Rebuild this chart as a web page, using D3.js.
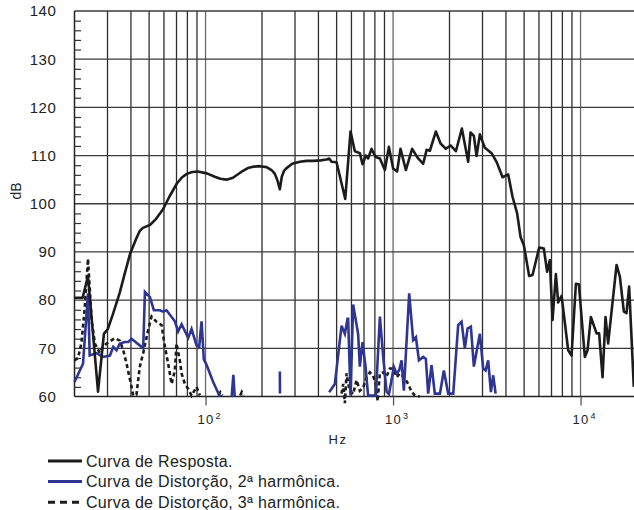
<!DOCTYPE html>
<html>
<head>
<meta charset="utf-8">
<script src="https://cdn.jsdelivr.net/npm/d3@7"></script>
<style>
  body { margin: 0; background: #fff; }
  text { font-family: "Liberation Sans", Arial, sans-serif; fill: #222; }
</style>
</head>
<body>
<script>
const wid = 634, hei = 510;

// Curva de Resposta: [Hz, dB]
const resposta = [
  [20, 80.5], [22.1, 80.5], [23.6, 85], [26.7, 61], [28.7, 73], [30.1, 74], [32, 77],
  [34.9, 81.6], [37, 85.4], [39.5, 89.5], [42.5, 92.6], [44.5, 94.3], [46.3, 95],
  [50.5, 95.6], [54, 96.7], [59.2, 98.8], [64, 101.4], [70.3, 104.2], [75, 105.5],
  [79.5, 106.2], [85, 106.6], [91, 106.7], [101.6, 106.3], [112, 105.6], [120, 105.2],
  [129.4, 105], [140, 105.4], [155, 106.6], [168, 107.4], [179.5, 107.7], [195, 107.8],
  [211.5, 107.6], [225, 107], [234.2, 106.2], [242, 104.8], [249, 103], [255, 105.6],
  [262, 106.8], [270.4, 107.4], [290, 108.3], [318.5, 108.7], [345, 108.9], [374.9, 108.9],
  [410, 109], [441.9, 109.2], [456.3, 109.4],
  [469.9, 108.7], [499.7, 108.6], [555.9, 101], [593.2, 115], [625.5, 110.9], [665.1, 110.5],
  [687.5, 108.2], [716.1, 110], [736.2, 109.4], [767.6, 111.4], [806.7, 109.7], [850.6, 109.4],
  [904.4, 107], [950.1, 111.8], [1001, 107.3], [1051, 106.7], [1096, 111.4], [1170, 107],
  [1264, 111.4], [1361, 109.4], [1448, 108.3], [1510, 111.2], [1572, 111], [1692, 115],
  [1792, 112.5], [1913, 111.4], [2026, 112.1], [2163, 110.9], [2328, 115.6], [2515, 108.7],
  [2590, 114.8], [2698, 114.1], [2788, 109.9], [2904, 114.4], [3088, 111.6], [3352, 110.5],
  [3564, 108.7], [3838, 105.5], [4111, 106.1], [4340, 101.4], [4590, 98], [4786, 93.1],
  [4986, 91.4], [5319, 85], [5545, 85.2], [6014, 90.9], [6371, 90.7], [6633, 85.9],
  [6855, 88.3], [7090, 75.9], [7386, 85.4], [7598, 79.5], [7922, 80.9], [8590, 69.6],
  [8955, 68.5], [9444, 83.4], [9796, 83.3], [10540, 68.2], [10900, 69.6], [11350, 76.5],
  [12170, 73.1], [12560, 73.1], [13100, 64], [13590, 76.5], [14030, 71], [15560, 87.3],
  [16200, 84.9], [17020, 77.6], [17580, 77.3], [18160, 82.8], [19230, 62]
];

// Curva de Distorção, 2ª harmônica (null = abaixo de 60 dB)
const harm2 = [
  [20, 63], [22.2, 66.8], [23.6, 81.4], [24.1, 68.5], [26.2, 69], [28.4, 68.2], [30.9, 68.5],
  [32.2, 70.3], [33.5, 69.6], [34.9, 71], [37.1, 71.3], [38.7, 71.3], [40.3, 72], [46.5, 70],
  [47.5, 81.7], [50.5, 80.6], [53, 77.9], [57.1, 77.9], [59.4, 77.6], [61.9, 77.9],
  [68.6, 75.6], [71.4, 73.5], [74.5, 75], [80.8, 72.2], [84.2, 74], [89.5, 70.6], [92.5, 70.3],
  [95.2, 75.6], [97.9, 67.7], [101.2, 66.6], [109.8, 63], [119.2, 60], null,
  [137.8, 60], [140.7, 64.5], [143, 60], null,
  [249, 65.2], [249.4, 60.6], null,
  [456.3, 60.9], [489.3, 62.6], [531.4, 74.7], [553.3, 73], [571.6, 76.1], [576, 76.1],
  [593.2, 60.2], [612.4, 79.1], [651.1, 73], [665.1, 66.2], [687.5, 71.3], [713, 66.2],
  [736.2, 60.2], [809.6, 60.2], [850.6, 76.6], [885.9, 68.2], [923.4, 61], [950.1, 60.5],
  [981.7, 63.4], [1009, 66.2], [1044, 64.8], [1078, 65.4], [1110, 67.5], [1142, 61.2],
  [1219, 81.4], [1280, 71.7], [1324, 72.3], [1374, 67.5], [1448, 68.2], [1496, 67.8],
  [1539, 60.6], [1604, 66.5], [1670, 60.6], [1778, 60.6], [1866, 65.4], [1968, 60.6],
  [2094, 60.6], [2225, 74.8], [2319, 75.5], [2415, 70], [2496, 74.1], [2600, 74.5],
  [2698, 66.2], [2788, 69.3], [2904, 73], [3025, 65.8], [3115, 65.4], [3216, 67.5],
  [3325, 60.9], [3421, 64.4], [3523, 60.6]
];

// Curva de Distorção, 3ª harmônica
const harm3 = [
  [20, 67.5], [20.9, 68], [21.8, 71.2], [22.7, 78.6], [23.6, 88.6], [24.7, 75.6], [25.7, 71],
  [27.3, 69], [28.4, 70.3], [29.7, 71], [32.8, 72.1], [34.9, 71.6], [36.4, 69.6], [37.9, 66.8],
  [40.3, 62], [41.1, 60.2], [42.8, 60.4], [44.6, 66.2], [46.5, 69], [49.4, 73.8], [51.5, 76.6],
  [54.8, 75.5], [58.3, 74.8], [60.7, 70.3], [63.2, 66.8], [65.9, 62.6], [68.6, 65.4],
  [70, 71], [72.9, 67.5], [74.5, 64.8], [77.6, 62.6], [80.8, 61.6], [84.2, 60.2], [89.5, 62],
  [93.2, 60.2], null,
  [117, 60.2], [120, 60.9], [123, 60.2], null,
  [153, 60.2], [156, 60.9], [159, 60.2], null,
  [531.3, 60.6], [542, 62.6], [553.4, 58.6], [564.9, 64.8], [581.2, 62], [595.6, 61],
  [612.7, 60.5], [638.8, 63.4], [665.1, 61.2], [692.7, 61.8], [722.3, 64], [752.1, 65],
  [783.2, 64.3], [816.6, 62], [826.7, 59], [850.5, 64.8], [885.7, 65], [923.4, 64.2],
  [961.4, 65.8], [1001, 65.8], [1044, 64], [1087, 64.8], [1156, 63.8], [1204, 62.6],
  [1255, 61], [1307, 60.2], [1390, 60]
];

const dbTicks = d3.range(60, 141, 10);
const dbMinor = d3.range(62, 140, 2).filter(v => v % 10 !== 0);
const decades = [100, 1000, 10000];
const decadeExp = ['2', '3', '4'];

const legendItems = [
  {label: 'Curva de Resposta.', color: '#1c1c1c', dash: null},
  {label: 'Curva de Distorção, 2ª harmônica.', color: '#2e3592', dash: null},
  {label: 'Curva de Distorção, 3ª harmônica.', color: '#1c1c1c', dash: '7,5'}
];

const x = d3.scaleLog().domain([20, 20000]).range([74.5, 637]);
const y = d3.scaleLinear().domain([60, 140]).range([396.5, 11]);
const x0 = 74.5, x1 = 634, y0 = 396.5, y1 = 11;

let svg = d3.select('body').append('svg')
  .attr('width', wid)
  .attr('height', hei);

// grid
const vLines = x.ticks().filter(v => v > 20 && v < 20000);
svg.append('g').selectAll('line')
  .data(vLines)
  .enter().append('line')
  .attr('x1', d => x(d)).attr('x2', d => x(d))
  .attr('y1', y1).attr('y2', y0)
  .attr('stroke', d => decades.includes(d) ? '#6a6a6a' : '#2e2e2e')
  .attr('stroke-width', 1.3);

svg.append('g').selectAll('line')
  .data(dbTicks.filter(v => v > 60))
  .enter().append('line')
  .attr('x1', x0).attr('x2', x1)
  .attr('y1', d => y(d)).attr('y2', d => y(d))
  .attr('stroke', '#3a3a3a').attr('stroke-width', 1.3);

// frame (left and bottom)
svg.append('line').attr('x1', x0).attr('x2', x0).attr('y1', y1).attr('y2', y0)
  .attr('stroke', '#222').attr('stroke-width', 1.5);
svg.append('line').attr('x1', x0).attr('x2', x1).attr('y1', y0).attr('y2', y0)
  .attr('stroke', '#222').attr('stroke-width', 1.5);

// y axis labels
let yAxis = svg.append('g')
  .attr('transform', `translate(${x0},0)`)
  .call(d3.axisLeft(y).tickValues(dbTicks).tickSize(0).tickPadding(18));
yAxis.select('.domain').remove();
yAxis.selectAll('text')
  .attr('font-size', 15)
  .attr('letter-spacing', 0.6)
  .attr('font-family', '"Liberation Sans", Arial, sans-serif')
  .attr('fill', '#222');

// y minor ticks (inward)
let yMinor = svg.append('g')
  .attr('transform', `translate(${x0},0)`)
  .call(d3.axisRight(y).tickValues(dbMinor).tickSize(6.5).tickFormat(''));
yMinor.select('.domain').remove();
yMinor.selectAll('line').attr('stroke', '#333').attr('stroke-width', 1.2);

// x axis
let xAxis = svg.append('g')
  .attr('transform', `translate(0,${y0})`)
  .call(d3.axisBottom(x).tickValues(decades).tickSize(9).tickFormat(''));
xAxis.select('.domain').remove();
xAxis.selectAll('line').attr('stroke', '#555').attr('stroke-width', 1.3);

let xLab = svg.append('g').selectAll('text')
  .data(decades)
  .enter().append('text')
  .attr('x', d => x(d) - 8)
  .attr('y', 424)
  .attr('font-size', 13)
  .attr('letter-spacing', 1.2);
xLab.append('tspan').text('10');
xLab.append('tspan')
  .attr('dy', -5)
  .attr('dx', 1)
  .attr('font-size', 9)
  .text((d, i) => decadeExp[i]);

svg.append('text')
  .attr('x', 338).attr('y', 444)
  .attr('text-anchor', 'middle')
  .attr('font-size', 13)
  .attr('letter-spacing', 1.5)
  .text('Hz');

svg.append('text')
  .attr('transform', 'translate(21,191) rotate(-90)')
  .attr('text-anchor', 'middle')
  .attr('font-size', 14)
  .text('dB');

// curves
const line = d3.line()
  .defined(d => d !== null)
  .x(d => x(d[0]))
  .y(d => y(d[1]));

svg.append('path').datum(harm3)
  .attr('d', line).attr('fill', 'none')
  .attr('stroke', '#1c1c1c').attr('stroke-width', 2.6)
  .attr('stroke-dasharray', '4,3');

svg.append('path').datum(harm2)
  .attr('d', line).attr('fill', 'none')
  .attr('stroke', '#2e3592').attr('stroke-width', 2.6);

svg.append('path').datum(resposta)
  .attr('d', line).attr('fill', 'none')
  .attr('stroke', '#1c1c1c').attr('stroke-width', 2.6)
  .attr('stroke-linejoin', 'round');

// legend
let leg = svg.append('g').selectAll('g')
  .data(legendItems)
  .enter().append('g')
  .attr('transform', (d, i) => `translate(48,${461 + i * 20.6})`);
leg.append('line')
  .attr('x1', 0).attr('x2', 34)
  .attr('stroke', d => d.color)
  .attr('stroke-width', 3)
  .attr('stroke-dasharray', d => d.dash);
leg.append('text')
  .attr('x', 38).attr('y', 5.5)
  .attr('font-size', 16)
  .attr('letter-spacing', 0.3)
  .text(d => d.label);
</script>
</body>
</html>
